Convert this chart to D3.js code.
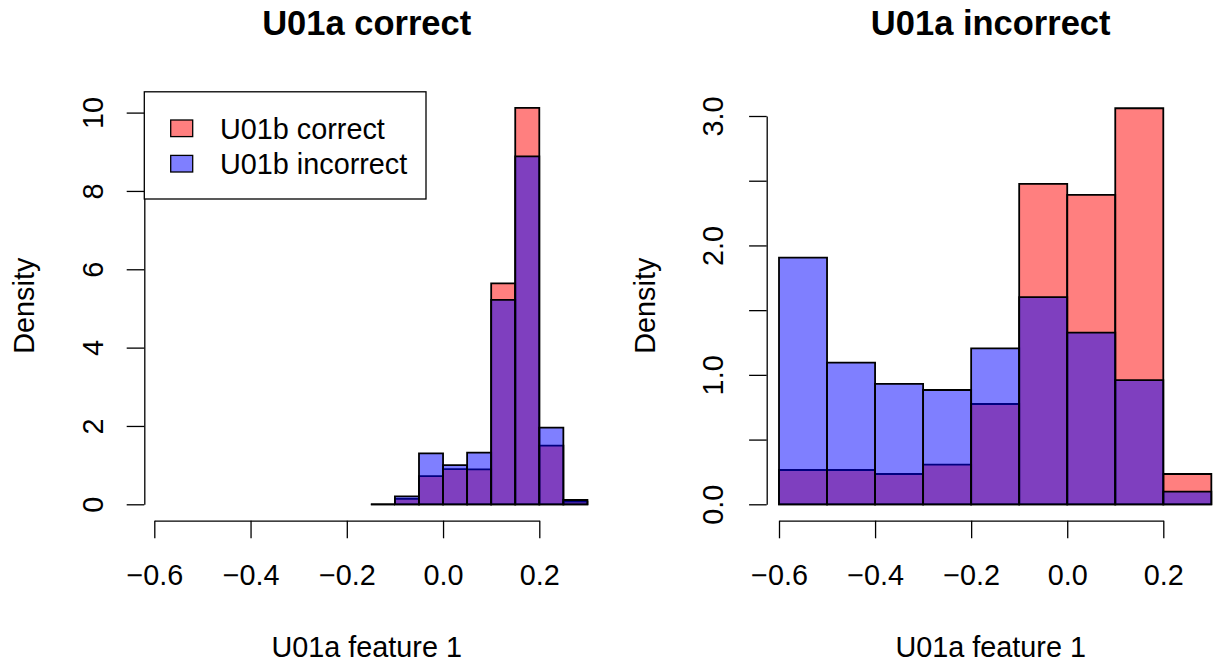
<!DOCTYPE html>
<html>
<head>
<meta charset="utf-8">
<script src="https://cdn.jsdelivr.net/npm/d3@7"></script>
<style>
  html, body { margin: 0; padding: 0; background: #fff; }
  svg text { font-family: "Liberation Sans", Arial, Helvetica, sans-serif; fill: #000; }
</style>
</head>
<body>
<svg id="chart" width="1213" height="661"></svg>
<script>
// ---------- data ----------
const leftTitle = "U01a correct";
const rightTitle = "U01a incorrect";
const xLabel = "U01a feature 1";
const yLabel = "Density";
const legendLabels = ["U01b correct", "U01b incorrect"];

const leftBreaks = [-0.15, -0.10, -0.05, 0.00, 0.05, 0.10, 0.15, 0.20, 0.25, 0.30];
const leftCorrect = [0.00, 0.14, 0.72, 0.90, 0.89, 5.64, 10.12, 1.50, 0.07];
const leftIncorrect = [0.00, 0.20, 1.30, 1.00, 1.32, 5.22, 8.88, 1.96, 0.11];

const rightBreaks = [-0.6, -0.5, -0.4, -0.3, -0.2, -0.1, 0.0, 0.1, 0.2, 0.3];
const rightCorrect = [0.265, 0.265, 0.234, 0.306, 0.775, 2.475, 2.39, 3.06, 0.234];
const rightIncorrect = [1.906, 1.094, 0.93, 0.883, 1.205, 1.60, 1.326, 0.96, 0.098];

const xTicks = [-0.6, -0.4, -0.2, 0.0, 0.2];
const leftYTicks = [0, 2, 4, 6, 8, 10];
const leftYLabels = ["0", "2", "4", "6", "8", "10"];
const rightYTicks = [0, 0.5, 1.0, 1.5, 2.0, 2.5, 3.0];
const rightYLabels = ["0.0", "", "1.0", "", "2.0", "", "3.0"];

// ---------- style ----------
const redFill = "rgba(255,0,0,0.5)";
const blueFill = "rgba(0,0,255,0.5)";
const baseFont = 28.8;
const fmtX = v => (v < 0 ? "\u2212" : "") + Math.abs(v).toFixed(1);

const svg = d3.select("#chart");

function panel(opts) {
  const g = svg.append("g");
  const xs = d3.scaleLinear().domain([-0.6, 0.2]).range(opts.xRange);
  const ys = d3.scaleLinear().domain(opts.yDomain).range(opts.yRange);
  const y0 = ys(0);

  // bars: correct first, then incorrect on top (paths so zero-height bins still show a line)
  [[opts.correct, redFill], [opts.incorrect, blueFill]].forEach(([vals, fill]) => {
    g.append("g").selectAll("path").data(vals).join("path")
      .attr("d", (d, i) => {
        const x0 = xs(opts.breaks[i]), x1 = xs(opts.breaks[i + 1]), yt = ys(d);
        return `M${x0},${y0}V${yt}H${x1}V${y0}Z`;
      })
      .attr("fill", fill)
      .attr("stroke", "#000")
      .attr("stroke-width", 1.8);
  });

  // x axis
  const xAxis = g.append("g")
    .attr("transform", `translate(0,${opts.xAxisY})`)
    .call(d3.axisBottom(xs).tickValues(xTicks).tickSize(17.6).tickSizeOuter(0).tickFormat(fmtX));
  xAxis.selectAll("path, line").attr("stroke", "#000").attr("stroke-width", 1.3);
  xAxis.selectAll("text").attr("y", 64.6).attr("dy", 0).attr("font-size", baseFont).attr("fill", "#000");

  // y axis
  const yAxis = g.append("g")
    .attr("transform", `translate(${opts.yAxisX},0)`)
    .call(d3.axisLeft(ys).tickValues(opts.yTicks).tickSize(17.6).tickSizeOuter(0)
      .tickFormat((d, i) => opts.yLabels[i]));
  yAxis.selectAll("path, line").attr("stroke", "#000").attr("stroke-width", 1.3);
  yAxis.selectAll("text")
    .attr("x", null)
    .attr("transform", `translate(${opts.yLabOff},0) rotate(-90)`)
    .attr("text-anchor", "middle")
    .attr("dy", "0.36em")
    .attr("font-size", baseFont).attr("fill", "#000");

  // title
  g.append("text").attr("x", opts.cx).attr("y", 35)
    .attr("text-anchor", "middle").attr("font-weight", "bold").attr("font-size", 34.5)
    .text(opts.title);
  // x label
  g.append("text").attr("x", opts.cx).attr("y", 656.5)
    .attr("text-anchor", "middle").attr("font-size", baseFont).text(xLabel);
  // y label
  g.append("text").attr("transform", `translate(${opts.yLabX},305.7) rotate(-90)`)
    .attr("text-anchor", "middle").attr("dy", "0.36em").attr("font-size", baseFont).text(yLabel);
  return g;
}

panel({
  title: leftTitle, cx: 366.7, breaks: leftBreaks, correct: leftCorrect, incorrect: leftIncorrect,
  xRange: [154.3, 539.3], yDomain: [0, 10], yRange: [504.3, 112.6],
  yTicks: leftYTicks, yLabels: leftYLabels, xAxisY: 520.7, yAxisX: 144.3, yLabOff: -51.3, yLabX: 23.3
});

panel({
  title: rightTitle, cx: 990.7, breaks: rightBreaks, correct: rightCorrect, incorrect: rightIncorrect,
  xRange: [779, 1163.3], yDomain: [0, 3], yRange: [504.3, 116],
  yTicks: rightYTicks, yLabels: rightYLabels, xAxisY: 520.7, yAxisX: 766.7, yLabOff: -53.7, yLabX: 645
});

// legend (left panel, top-left)
const lg = svg.append("g");
lg.append("rect").attr("x", 144.3).attr("y", 91.8).attr("width", 281.7).attr("height", 107.2)
  .attr("fill", "#fff").attr("stroke", "#000").attr("stroke-width", 1.3);
const legRows = lg.selectAll("g.row").data(legendLabels).join("g").attr("class", "row")
  .attr("transform", (d, i) => `translate(0,${i === 0 ? 128.3 : 163.7})`);
legRows.append("rect").attr("x", 170.7).attr("y", -8.3).attr("width", 22).attr("height", 16.6)
  .attr("fill", (d, i) => i === 0 ? redFill : blueFill).attr("stroke", "#000").attr("stroke-width", 1.3);
legRows.append("text").attr("x", 220).attr("y", 0).attr("dy", "0.36em")
  .attr("font-size", baseFont).text(d => d);
</script>
</body>
</html>
